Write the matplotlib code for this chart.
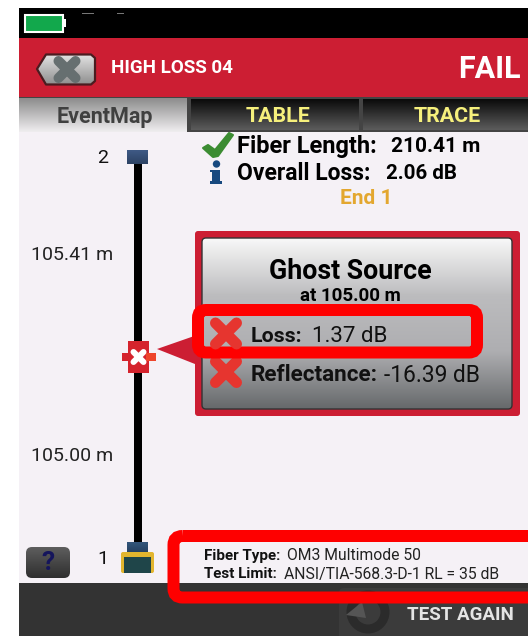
import matplotlib
matplotlib.use("Agg")
import matplotlib.pyplot as plt
import numpy as np
from matplotlib.patches import FancyBboxPatch, Polygon, Rectangle

plt.rcParams["font.family"] = ["Roboto", "DejaVu Sans"]

title = "HIGH LOSS 04"
status = "FAIL"
tabs = ["EventMap", "TABLE", "TRACE"]
fiber_length = "210.41 m"
overall_loss = "2.06 dB"
segment_labels = ["105.41 m", "105.00 m"]
event_name = "Ghost Source"
event_pos = "at 105.00 m"
event_loss = "1.37 dB"
event_refl = "-16.39 dB"
fiber_type = "OM3 Multimode 50"
test_limit = "ANSI/TIA-568.3-D-1 RL = 35 dB"

RED = "#cc1e33"
BRIGHT = "#fe0000"
PX = 0.72  # pixels to points at dpi 100


def grad(ax, x0, x1, y0, y1, top, bottom, clip=None, zorder=1):
    c = matplotlib.colors.LinearSegmentedColormap.from_list("g", top if isinstance(top, list) else [top, bottom])
    im = ax.imshow(np.linspace(0, 1, 128)[:, None], extent=(x0, x1, y1, y0), cmap=c,
                   aspect="auto", zorder=zorder, interpolation="bilinear")
    if clip is not None:
        im.set_clip_path(clip)
    return im


def box(ax, x, y, w, h, r, **kw):
    p = FancyBboxPatch((x + r, y + r), w - 2 * r, h - 2 * r, boxstyle=f"round,pad={r},rounding_size={r}", **kw)
    ax.add_patch(p)
    return p


def cross(ax, cx, cy, s, lw, color, zorder=5):
    for d in (1, -1):
        ax.plot([cx - s, cx + s], [cy - d * s, cy + d * s], color=color, lw=lw * PX,
                solid_capstyle="round", zorder=zorder)


fig = plt.figure(figsize=(5.28, 6.36), dpi=100)
ax = fig.add_axes([0, 0, 1, 1])

# screen background
ax.add_patch(Rectangle((19, 8), 509, 30, fc="black", zorder=1))
ax.add_patch(Rectangle((19, 38), 509, 59, fc=RED, zorder=1))
ax.add_patch(Rectangle((19, 132), 509, 451, fc="#f5f1f6", zorder=1))
ax.add_patch(Rectangle((19, 583), 509, 53, fc="#333333", zorder=1))

# battery and the cut off status marks
ax.add_patch(Rectangle((24.5, 14.5), 38, 17, fc="#12a84c", ec="white", lw=1.5, zorder=2))
ax.add_patch(Rectangle((63, 19), 3, 8, fc="white", zorder=2))
ax.add_patch(Rectangle((82, 13), 12, 1.2, fc="#777777", zorder=2))
ax.add_patch(Rectangle((117, 13), 7, 1.2, fc="#777777", zorder=2))

# back button
back = Polygon([(37, 69), (46, 54.5), (91, 54.5), (95, 58), (95, 81), (91, 84.5), (46, 84.5)],
               closed=True, fc="none", ec="#4a1c20", lw=1.6, joinstyle="round", zorder=3)
ax.add_patch(back)
grad(ax, 37, 95, 54, 85, "#e4e4e4", "#8d8d8d", clip=back, zorder=2)
cross(ax, 67, 69.5, 8.5, 10, "#666f70")

ax.text(111, 68, title, color="white", fontsize=13.5, fontweight="bold", va="center", ha="left", zorder=5)
ax.text(521, 69, status, color="white", fontsize=22, fontweight="bold", va="center", ha="right", zorder=5)

# tabs
ax.add_patch(Rectangle((19, 97), 509, 35, fc="#444444", zorder=1))
grad(ax, 19, 187, 98, 132, "#8c8c8c", "#f0eef0", zorder=2)
tab_x = [(191, 359), (363, 528)]
tab_mid = [278, 447]
for (a, b), mid, lab in zip(tab_x, tab_mid, tabs[1:]):
    grad(ax, a, b, 99, 130, "#0a0a0a", "#5c5c5c", zorder=2)
    ax.text(mid, 117, lab, color="#f6f07c", fontsize=15.4, fontweight="bold",
            ha="center", va="center", zorder=5)
ax.text(104.5, 117, tabs[0], color="#404040", fontsize=15.5, fontweight="bold", ha="center", va="center", zorder=5)

# summary lines
check = [(203, 148), (208, 145), (215, 150), (229, 133), (233, 135), (218, 156), (213, 157)]
ax.add_patch(Polygon(check, closed=True, fc="#3c8c32", ec="#3c8c32", lw=1.5, joinstyle="round", zorder=5))
ax.add_patch(plt.Circle((216.5, 164), 3.7, fc="#17497f", zorder=5))
ax.add_patch(Polygon([(210, 170), (220, 170), (220, 181), (222, 181), (222, 184), (210, 184), (210, 181), (212, 181), (212, 172), (210, 172)],
                     closed=True, fc="#17497f", zorder=5))
ax.text(237, 146.5, "Fiber Length:", fontsize=17, fontweight="bold", va="center", zorder=5)
ax.text(391, 146.5, fiber_length, fontsize=15, fontweight="bold", va="center", zorder=5)
ax.text(237, 173.5, "Overall Loss:", fontsize=16.5, fontweight="bold", va="center", zorder=5)
ax.text(386, 173.5, overall_loss, fontsize=14.8, fontweight="bold", va="center", zorder=5)
ax.text(366.5, 198, "End 1", color="#e3a72f", fontsize=15, fontweight="bold", ha="center", va="center", zorder=5)

# fiber map
ax.plot([138, 138], [160, 545], color="black", lw=8 * PX, solid_capstyle="butt", zorder=3)
grad(ax, 127, 148, 150, 164, "#3f5a86", "#2c4263", zorder=4)
ax.text(103, 158, "2", fontsize=14, ha="center", va="center", color="#111111", zorder=5)
ax.text(103, 559, "1", fontsize=14, ha="center", va="center", color="#111111", zorder=5)
ax.text(31, 255, segment_labels[0], fontsize=14, va="center", color="#222222", zorder=5)
ax.text(31, 456, segment_labels[1], fontsize=14, va="center", color="#222222", zorder=5)

# event marker
ax.add_patch(Rectangle((128, 341), 21, 32, fc="#d5232d", zorder=4))
ax.add_patch(Rectangle((122, 353), 34, 8, fc="#d5232d", zorder=4))
ax.add_patch(Rectangle((146, 353), 10, 8, fc="#ee452b", zorder=4))
cross(ax, 138.5, 357, 5, 6, "white")
ax.add_patch(Polygon([(157, 349), (200, 334), (200, 366)], closed=True, fc=RED, zorder=3))

# connector 1
grad(ax, 127, 148, 542, 553, "#33567c", "#25405f", zorder=4)
box(ax, 121, 552, 33, 21, 2, fc="#e2b52e", ec="none", zorder=4)
ax.add_patch(Rectangle((124, 557), 27, 16, fc="#1f4549", zorder=5))

# help button
hb = box(ax, 26, 547, 44, 31, 6, fc="none", ec="none", zorder=3)
grad(ax, 26, 70, 547, 578, "#5e5e5e", "#2e2e2e", clip=hb, zorder=3)
ax.text(48, 563.5, "?", color="#15155c", fontsize=19, fontweight="bold", ha="center", va="center", zorder=5)

# event card
box(ax, 195, 231, 325, 185, 3, fc=RED, ec="none", zorder=3)
card = box(ax, 202, 238, 310, 171, 4, fc="none", ec="#333333", lw=1, zorder=5)
grad(ax, 202, 512, 238, 409, ["#f8f8f8", "#bcbcbe", "#aeaeb1", "#66696b"], None, clip=card, zorder=4)
ax.text(350.5, 271.5, event_name, fontsize=19.3, fontweight="bold", ha="center", va="center", zorder=6)
ax.text(350.5, 296, event_pos, fontsize=13.5, fontweight="bold", ha="center", va="center", zorder=6)

cross(ax, 226, 372, 10.5, 11, "#e6352f", zorder=6)
ax.text(251, 375, "Reflectance:", fontsize=16.2, fontweight="bold", va="center", color="#111111", zorder=6)
ax.text(384, 375, event_refl, fontsize=16.4, va="center", color="#111111", zorder=6)

# red highlight round the loss row
box(ax, 198, 310, 279, 42.5, 8, fc="none", ec=BRIGHT, lw=12 * PX, zorder=7)
cross(ax, 226, 333.5, 10.5, 11, "#e6352f", zorder=8)
ax.text(251, 336, "Loss:", fontsize=15.3, fontweight="bold", va="center", color="#111111", zorder=8)
ax.text(312, 336, event_loss, fontsize=16, va="center", color="#111111", zorder=8)

# test again button
tb = box(ax, 339, 588, 200, 60, 5, fc="#3b3b3b", ec="none", zorder=3)
ax.add_patch(plt.Circle((368, 612), 17, fc="none", ec="#2b2b2b", lw=9 * PX, zorder=4))
ax.add_patch(Polygon([(346, 615), (362, 602), (366, 618)], closed=True, fc="#555555", zorder=4))
ax.text(460.5, 615, "TEST AGAIN", color="#e4e4e4", fontsize=13.5, fontweight="bold", ha="center", va="center", zorder=5)

# fiber info with highlight
box(ax, 173.5, 536, 372, 61.5, 9, fc="none", ec=BRIGHT, lw=12 * PX, zorder=6)
ax.text(204, 556, "Fiber Type:", fontsize=10.9, fontweight="bold", va="center", color="#111111", zorder=7)
ax.text(287, 556, fiber_type, fontsize=11.3, va="center", color="#222222", zorder=7)
ax.text(204, 574, "Test Limit:", fontsize=10.9, fontweight="bold", va="center", color="#111111", zorder=7)
ax.text(284, 574, test_limit, fontsize=11.3, va="center", color="#222222", zorder=7)

ax.set_xlim(0, 528)
ax.set_ylim(636, 0)
ax.set_aspect("auto")
ax.axis("off")

fig.savefig("out.png", dpi=100)
